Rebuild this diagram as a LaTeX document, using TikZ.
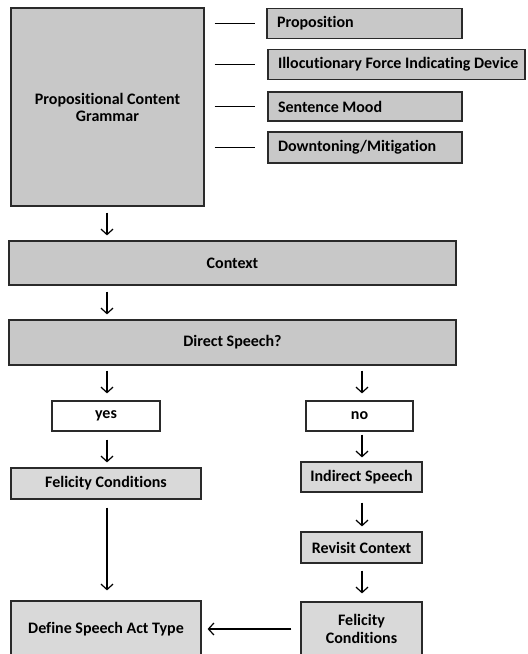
\documentclass[tikz,border=0pt]{standalone}
\usepackage{fontspec}
\setmainfont{Carlito}[Ligatures=NoCommon]
\usetikzlibrary{arrows.meta}
\definecolor{darkbox}{HTML}{C8C8C8}
\definecolor{lightbox}{HTML}{D9D9D9}
\definecolor{edge}{HTML}{2A2A2A}
\begin{document}
\begin{tikzpicture}[x=1pt,y=-1pt,
  box/.style={draw=edge, line width=1.2pt, inner sep=0pt, align=center,
    font=\bfseries\fontsize{16}{17}\selectfont},
  dbox/.style={box, fill=darkbox},
  lbox/.style={box, fill=lightbox},
  wbox/.style={box, fill=white},
  sidebox/.style={dbox, inner xsep=0pt, align=flush left, minimum height=#1,
    execute at begin node={\hspace*{10pt}}},
  arr/.style={line width=1.2pt, -{Straight Barb[length=5.5pt,width=12pt,line width=1.2pt]}},
  tick/.style={line width=1.2pt}]
\useasboundingbox (0,0) rectangle (528,654);
% nodes
\node[dbox, minimum width=193pt, minimum height=198pt] (pcg) at (107.5,107) {Propositional Content\\Grammar};
\node[sidebox=30pt, text width=195pt] (prop) at (364.5,23.5) {Proposition};
\node[sidebox=30pt, text width=257pt] (ifid) at (396.5,64.5) {Illocutionary Force Indicating Device};
\node[sidebox=29pt, text width=194pt] (mood) at (365,106.5) {Sentence Mood};
\node[sidebox=31pt, text width=194pt] (mit) at (365,147.5) {Downtoning/Mitigation};
\node[dbox, minimum width=447pt, minimum height=44pt] (ctx) at (232.5,263) {Context};
\node[dbox, minimum width=447pt, minimum height=45pt] (dir) at (232.5,342.5) {Direct Speech?};
\node[wbox, minimum width=108pt, minimum height=30pt] (yes) at (106,416) {yes};
\node[wbox, minimum width=107pt, minimum height=30pt] (no) at (359.5,416) {no};
\node[lbox, minimum width=190pt, minimum height=31pt] (fcl) at (106,483.5) {Felicity Conditions};
\node[lbox, minimum width=121pt, minimum height=30pt] (ind) at (361.5,477) {Indirect Speech};
\node[lbox, minimum width=121pt, minimum height=31pt] (rev) at (361.5,547.5) {Revisit Context};
\node[lbox, minimum width=121pt, minimum height=54pt, font=\bfseries\fontsize{16}{18}\selectfont] (fcr) at (361.5,629) {Felicity\\Conditions};
\node[lbox, minimum width=190pt, minimum height=56pt] (def) at (106,629) {Define Speech Act Type};
\coordinate (L) at (107,0);
\coordinate (R) at (362,0);
% side ticks
\draw[tick, shorten <=10pt, shorten >=11pt] (pcg.east |- prop.west) -- (prop.west);
\draw[tick, shorten <=10pt, shorten >=12pt] (pcg.east |- ifid.west) -- (ifid.west);
\draw[tick, shorten <=10pt, shorten >=12pt] (pcg.east |- mood.west) -- (mood.west);
\draw[tick, shorten <=10pt, shorten >=12pt] (pcg.east |- mit.west) -- (mit.west);
% arrows
\draw[arr, shorten <=6pt, shorten >=5pt] (pcg.south -| L) -- (ctx.north -| L);
\draw[arr, shorten <=6pt, shorten >=5pt] (ctx.south -| L) -- (dir.north -| L);
\draw[arr, shorten <=5pt, shorten >=7pt] (dir.south -| L) -- (yes.north -| L);
\draw[arr, shorten <=5pt, shorten >=7pt] (dir.south -| R) -- (no.north -| R);
\draw[arr, shorten <=8pt, shorten >=5pt] (yes.south -| L) -- (fcl.north -| L);
\draw[arr, shorten <=3pt, shorten >=4pt] (no.south -| R) -- (ind.north -| R);
\draw[arr, shorten <=10pt, shorten >=5pt] (ind.south -| R) -- (rev.north -| R);
\draw[arr, shorten <=7pt, shorten >=8pt] (rev.south -| R) -- (fcr.north -| R);
\draw[arr, shorten <=8pt, shorten >=10pt] (fcl.south -| L) -- (def.north -| L);
\draw[arr, shorten <=9pt, shorten >=6pt] (fcr.west) -- (def.east);
\end{tikzpicture}
\end{document}
